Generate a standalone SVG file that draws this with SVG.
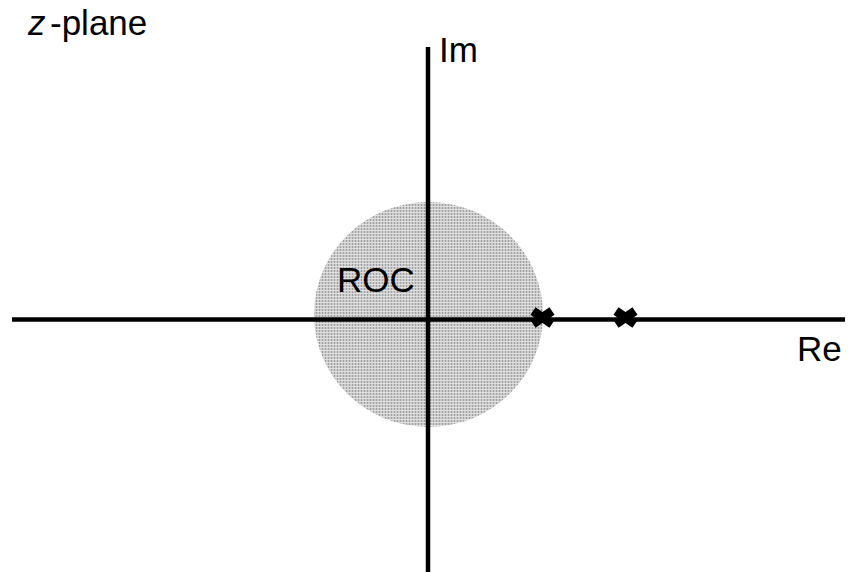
<svg xmlns="http://www.w3.org/2000/svg" width="848" height="572" viewBox="0 0 848 572">
  <style>
    text { font-family: "Liberation Sans", Arial, sans-serif; font-size: 35px; fill: #000; }
    .axis { stroke: #000; stroke-width: 4.5; fill: none; }
    .pole { stroke: #000; stroke-width: 9; fill: none; }
  </style>
  <defs>
    <pattern id="dots" width="3" height="3" patternUnits="userSpaceOnUse">
      <rect width="3" height="3" fill="#cacaca"/>
      <rect x="1" width="1" height="3" fill="#a0a0a0"/>
      <rect y="2" width="3" height="1" fill="#e0e0e0"/>
    </pattern>
    <g id="x-mark">
      <path class="pole" d="M -9.5 -6.5 L 9.5 6.5 M -9.5 6.5 L 9.5 -6.5"/>
    </g>
  </defs>
  <rect width="848" height="572" fill="#fff"/>

  <g id="roc">
    <ellipse cx="428.5" cy="314.5" rx="114.5" ry="112.5" fill="url(#dots)"/>
    <text x="337" y="292" font-size="34">ROC</text>
  </g>

  <g id="connectors">
    <line class="axis" x1="12" y1="319.5" x2="845" y2="319.5"/>
    <line class="axis" x1="428" y1="47" x2="428" y2="572"/>
  </g>

  <g id="pole1"><use href="#x-mark" x="542.5" y="317.5"/></g>
  <g id="pole2"><use href="#x-mark" x="625.5" y="317.5"/></g>

  <g id="plane-label">
    <text x="28" y="35"><tspan font-style="italic">z</tspan><tspan x="50">-plane</tspan></text>
  </g>
  <g id="im-label"><text x="439" y="62">Im</text></g>
  <g id="re-label"><text x="797" y="361" font-size="37">Re</text></g>
</svg>
